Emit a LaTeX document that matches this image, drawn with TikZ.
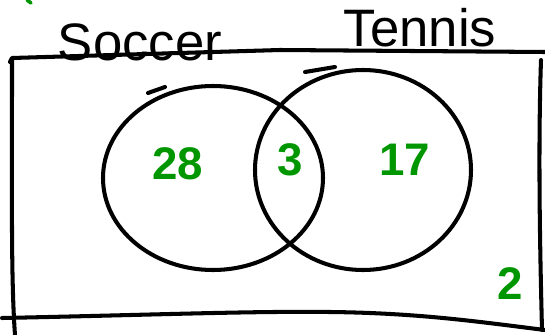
\documentclass[tikz,border=0pt]{standalone}
\usepackage{fontspec}
\setmainfont{Liberation Sans}
\definecolor{pen}{RGB}{0,150,0}
\begin{document}
\begin{tikzpicture}[x=0.02cm,y=-0.02cm,
  ink/.style={line width=2.3pt,line cap=round,line join=round,black},
  lbl/.style={font=\fontsize{30}{30}\selectfont,inner sep=0pt},
  num/.style={font=\fontsize{26}{26}\selectfont\bfseries,text=pen,inner sep=0pt}]
\useasboundingbox (0,0) rectangle (545,335);
% frame
\draw[ink] (10,62) -- (12,58) -- (280,50) -- (545,52);
\draw[ink] (12,60) .. controls (12,200) and (11,280) .. (15,335);
\draw[ink] (2,318) .. controls (150,315) and (250,311) .. (330,312) .. controls (420,313) and (480,322) .. (545,330);
\draw[ink] (541,60) .. controls (538,150) and (540,250) .. (542,330);
% circles
\draw[ink] (213,178) ellipse [x radius=110, y radius=92];
\draw[ink] (363,170) ellipse [x radius=108, y radius=100];
\draw[ink] (148,93) -- (165,87);
\draw[ink] (305,72) -- (335,67);
% green tick top-left
\draw[pen,line width=2pt,line cap=round] (27,0) -- (31,3);
% labels
\node[lbl] (soccer) at (140,42) {Soccer};
\node[lbl] (tennis) at (420,28) {Tennis};
\node[num] (a) at (178,164) {28};
\node[num] (b) at (290,160) {3};
\node[num] (c) at (405,160) {17};
\node[num] (d) at (510,284) {2};
\end{tikzpicture}
\end{document}
